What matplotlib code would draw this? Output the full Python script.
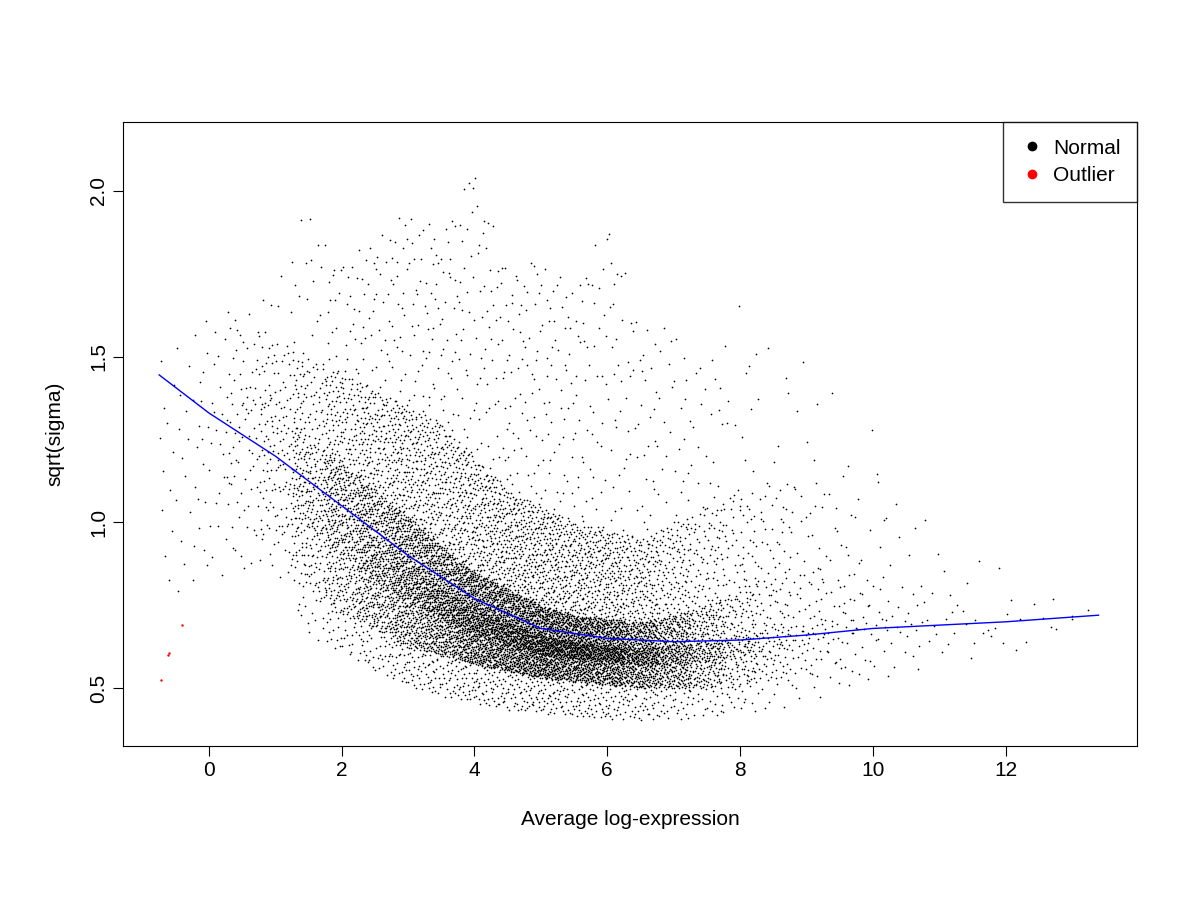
import numpy as np
import matplotlib
matplotlib.use("Agg")
import matplotlib.pyplot as plt
from matplotlib.lines import Line2D

plt.rcParams['font.family'] = ['Liberation Sans', 'DejaVu Sans']

# Per-bin summaries (bin centre, count, quantiles 0/5/25/50/75/95/100%)
bin_centers = [-0.5, 0.0, 0.5, 1.0, 1.5, 2.0, 2.5, 3.0, 3.5, 4.0, 4.5, 5.0, 5.5, 6.0, 6.5,
               7.0, 7.5, 8.0, 8.5, 9.0, 9.5, 10.0, 10.5, 11.0, 11.5, 12.0, 12.5, 13.0]
bin_counts = [25, 40, 80, 150, 350, 600, 800, 1000, 1100, 1200, 1200, 1200, 1100, 1000, 800,
              600, 400, 250, 150, 90, 60, 40, 25, 15, 10, 8, 5, 4]
q00 = [0.75, 0.80, 0.85, 0.85, 0.65, 0.60, 0.55, 0.50, 0.47, 0.45, 0.43, 0.42, 0.41, 0.40, 0.40,
       0.40, 0.41, 0.42, 0.43, 0.45, 0.50, 0.52, 0.55, 0.57, 0.58, 0.58, 0.63, 0.66]
q05 = [0.80, 0.85, 0.95, 0.95, 0.80, 0.72, 0.68, 0.62, 0.60, 0.57, 0.55, 0.53, 0.52, 0.51, 0.50,
       0.50, 0.50, 0.50, 0.52, 0.53, 0.55, 0.55, 0.58, 0.60, 0.62, 0.60, 0.65, 0.68]
q25 = [1.00, 1.05, 1.15, 1.10, 0.98, 0.90, 0.82, 0.76, 0.71, 0.66, 0.63, 0.60, 0.59, 0.58, 0.57,
       0.57, 0.58, 0.59, 0.61, 0.63, 0.65, 0.66, 0.67, 0.66, 0.66, 0.66, 0.69, 0.70]
q50 = [1.20, 1.25, 1.30, 1.25, 1.10, 1.05, 0.95, 0.88, 0.80, 0.74, 0.70, 0.66, 0.64, 0.63, 0.62,
       0.63, 0.64, 0.66, 0.68, 0.70, 0.72, 0.72, 0.72, 0.70, 0.70, 0.70, 0.72, 0.72]
q75 = [1.35, 1.40, 1.42, 1.38, 1.25, 1.18, 1.10, 1.02, 0.93, 0.85, 0.80, 0.75, 0.72, 0.71, 0.70,
       0.72, 0.75, 0.80, 0.85, 0.88, 0.85, 0.85, 0.82, 0.80, 0.75, 0.78, 0.75, 0.74]
q95 = [1.55, 1.60, 1.60, 1.55, 1.50, 1.45, 1.40, 1.35, 1.30, 1.20, 1.10, 1.05, 1.00, 0.98, 0.95,
       1.00, 1.05, 1.10, 1.12, 1.15, 1.10, 1.10, 1.08, 1.00, 0.85, 0.90, 0.78, 0.76]
q100 = [1.62, 1.65, 1.65, 1.75, 2.03, 1.80, 1.90, 1.98, 1.92, 2.13, 1.80, 1.85, 1.75, 1.98, 1.65,
        1.62, 1.50, 1.74, 1.55, 1.53, 1.40, 1.30, 1.20, 1.17, 0.95, 0.94, 0.80, 0.77]

outlier_x = [-0.72, -0.62, -0.60, -0.40]
outlier_y = [0.525, 0.600, 0.605, 0.690]

trend_x = [-0.75, 0, 1, 2, 3, 4, 5, 6, 7, 8, 9, 10, 11, 12, 13.4]
trend_y = [1.445, 1.33, 1.20, 1.05, 0.90, 0.77, 0.68, 0.65, 0.64, 0.645, 0.66, 0.68, 0.69, 0.70, 0.72]


def van_der_corput(n, base, offset):
    out = np.zeros(n)
    for i in range(n):
        k, f, r = i + offset, 1.0, 0.0
        while k > 0:
            f /= base
            r += f * (k % base)
            k //= base
        out[i] = r
    return out


# Place points deterministically from the bin summaries (quantiles smoothed along x)
qs = np.array([q00, q05, q25, q50, q75, q95, q100])
levels = [0, 0.05, 0.25, 0.5, 0.75, 0.95, 1.0]
xs, ys = [], []
for j, (c, n) in enumerate(zip(bin_centers, bin_counts)):
    xv = c - 0.25 + 0.5 * van_der_corput(n, 2, 1 + 7 * j)
    rk = 0.002 + 0.996 * van_der_corput(n, 3, 1 + 11 * j)
    for x, r in zip(xv, rk):
        qv = [np.interp(x, bin_centers, qrow) for qrow in qs]
        xs.append(x)
        ys.append(np.interp(r, levels, qv))
xs = np.array(xs); ys = np.array(ys)

fig = plt.figure(figsize=(12, 9), dpi=100)
ax = fig.add_axes([0.1025, 0.171, 0.845, 0.6934])
ax.scatter(xs, ys, s=1.5, c='black', marker='o', linewidths=0)
ax.scatter(outlier_x, outlier_y, s=3, c='red', marker='o', linewidths=0)
ax.plot(trend_x, trend_y, color='blue', lw=1)

ax.set_xlim(-1.295, 13.98)
ax.set_ylim(0.325, 2.208)
ax.set_xticks([0, 2, 4, 6, 8, 10, 12])
ax.set_yticks([0.5, 1.0, 1.5, 2.0])
ax.set_yticklabels(['0.5', '1.0', '1.5', '2.0'], rotation=90, va='center')
ax.tick_params(labelsize=15, length=7, direction='out')
ax.set_xlabel('Average log-expression', fontsize=15, labelpad=22)
ax.set_ylabel('sqrt(sigma)', fontsize=15, labelpad=18)

handles = [Line2D([], [], marker='o', color='black', ls='', markersize=6),
           Line2D([], [], marker='o', color='red', ls='', markersize=6)]
leg = ax.legend(handles, ['Normal', 'Outlier'], loc='upper right', fontsize=15,
                frameon=True, fancybox=False, borderaxespad=0, handletextpad=0.4,
                handlelength=1.2, borderpad=0.8, labelspacing=0.4)
leg.get_frame().set_edgecolor('black')
leg.get_frame().set_linewidth(1)

fig.savefig('out.png', dpi=100)
